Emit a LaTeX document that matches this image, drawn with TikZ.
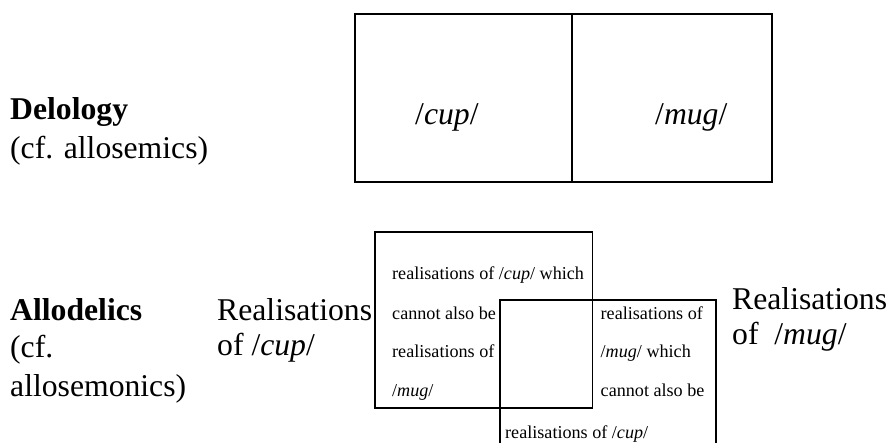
\documentclass[tikz,border=0pt]{standalone}
\usepackage{fontspec}
\setmainfont{Liberation Serif}
\begin{document}
\begin{tikzpicture}[x=1bp,y=-1bp,
  big/.style={inner sep=0pt,anchor=base west,font=\fontsize{31.8}{38}\selectfont},
  small/.style={inner sep=0pt,anchor=base west,font=\fontsize{18.2}{22}\selectfont},
  boxline/.style={line width=1.3bp,black}]
\useasboundingbox (0,0) rectangle (886,443);
% top box
\draw[boxline] (355,14) rectangle (772,182);
\draw[boxline] (572,14) -- (572,182);
\node[big] (cup) at (415,125) {/\textit{cup}/};
\node[big] (mug) at (655,125) {/\textit{mug}/};
% left labels
\node[big] (delo) at (10,120) {\textbf{Delology}};
\node[big] (delocf) at (10,159) {(cf. allosemics)};
\node[big] (allo) at (10,321) {\textbf{Allodelics}};
\node[big] (allocf1) at (10,358) {(cf.};
\node[big] (allocf2) at (10,396) {allosemonics)};
\node[big] (rcup1) at (217,321) {Realisations};
\node[big] (rcup2) at (217,356) {of /\textit{cup}/};
\node[big] (rmug1) at (732,310) {Realisations};
\node[big] (rmug2) at (732,345) {of\ \ /\textit{mug}/};
% overlapping boxes
\draw[boxline] (375,232) rectangle (592.7,408);
\draw[boxline] (500,445) -- (500,300) -- (716,300) -- (716,445);
\node[small] (a1) at (392,280) {realisations of /\textit{cup}/ which};
\node[small] (a2) at (392,320) {cannot also be};
\node[small] (a3) at (392,358) {realisations of};
\node[small] (a4) at (392,396.5) {/\textit{mug}/};
\node[small] (b1) at (600.5,320) {realisations of};
\node[small] (b2) at (600.5,358) {/\textit{mug}/ which};
\node[small] (b3) at (600.5,396.5) {cannot also be};
\node[small] (b4) at (505,438) {realisations of /\textit{cup}/};
\end{tikzpicture}
\end{document}
